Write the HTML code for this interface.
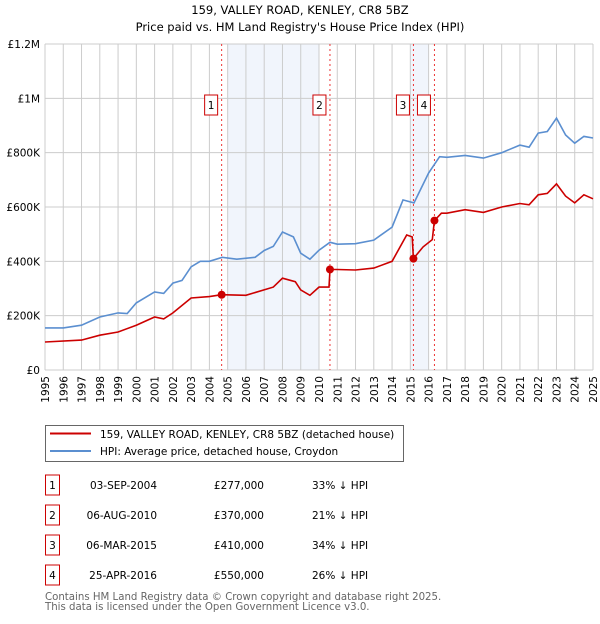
<!DOCTYPE html>
<html><head><meta charset="utf-8"><style>
body{margin:0;background:#fff;width:600px;height:620px;overflow:hidden;font-family:"DejaVu Sans","Liberation Sans",sans-serif}
svg text{font-family:"DejaVu Sans","Liberation Sans",sans-serif}
</style></head><body>
<svg id="c" width="600" height="620"></svg>
<script>
const hpiYears=[1995,1996,1997,1998,1999,1999.5,2000,2001,2001.5,2002,2002.5,2003,2003.5,2004,2004.7,2005.5,2006.5,2007,2007.5,2008,2008.6,2009,2009.5,2010,2010.6,2011,2012,2013,2014,2014.6,2015.2,2016,2016.6,2017,2018,2019,2020,2021,2021.5,2022,2022.5,2023,2023.5,2024,2024.5,2025];
const hpiValues=[155,155,165,195,210,208,247,287,282,320,330,380,400,400,415,408,415,440,455,508,490,430,408,441,470,463,465,478,526,626,615,725,785,783,790,780,800,828,820,872,878,927,865,835,860,854];
const ppYears=[1995,1997,1998,1999,2000,2001,2001.5,2002,2003,2004,2004.67,2006,2007.5,2008,2008.7,2009,2009.5,2010,2010.55,2010.6,2011,2012,2013,2014,2014.8,2015.1,2015.17,2015.7,2016.2,2016.32,2016.7,2017,2018,2019,2020,2021,2021.5,2022,2022.5,2023,2023.5,2024,2024.5,2025];
const ppValues=[103,110,128,140,165,195,188,210,265,270,277,275,305,338,325,295,275,305,305,370,370,368,375,400,497,490,410,453,480,550,577,577,590,580,600,613,608,645,650,685,640,615,645,630];
const saleLabels=["1","2","3","4"];
const saleDates=[2004.67,2010.6,2015.17,2016.32];
const saleValues=[277,370,410,550];
const saleDateText=["03-SEP-2004","06-AUG-2010","06-MAR-2015","25-APR-2016"];
const salePriceText=["£277,000","£370,000","£410,000","£550,000"];
const salePctText=["33% ↓ HPI","21% ↓ HPI","34% ↓ HPI","26% ↓ HPI"];
const yTicks=[0,200,400,600,800,1000,1200];
const yTickLabels=["£0","£200K","£400K","£600K","£800K","£1M","£1.2M"];
const shadeRanges=[[2005,2010],[2015,2016]];

const NS="http://www.w3.org/2000/svg",svg=document.getElementById('c');
const X0=45,X1=593,Y0=370,Y1=44,FS=10.5;
const x=v=>X0+(v-1995)/30*(X1-X0);
const y=v=>Y0-v/1200*(Y0-Y1);
function el(t,a,p){const e=document.createElementNS(NS,t);for(const k in a)e.setAttribute(k,a[k]);(p||svg).appendChild(e);return e;}
function tx(s,a){const e=el('text',a);e.textContent=s;return e;}

let t=tx("159, VALLEY ROAD, KENLEY, CR8 5BZ",{x:300,y:14,'text-anchor':'middle','font-size':11.5});

t=tx("Price paid vs. HM Land Registry's House Price Index (HPI)",{x:300,y:31,'text-anchor':'middle','font-size':11.5});


shadeRanges.forEach(r=>{const e=el('rect',{x:x(r[0]),y:Y1,width:x(r[1])-x(r[0]),height:Y0-Y1,fill:'#eef2fb',opacity:0.8});
});
for(let yr=1995;yr<=2025;yr++){const e=el('line',{x1:x(yr),x2:x(yr),y1:Y1,y2:Y0,stroke:'#cccccc','stroke-width':1});

const l=tx(String(yr),{x:0,y:0,'font-size':FS,'text-anchor':'end',transform:`translate(${x(yr)+4},${Y0+6}) rotate(-90)`});
}
yTicks.forEach((v,i)=>{const e=el('line',{x1:X0,x2:X1,y1:y(v),y2:y(v),stroke:'#cccccc','stroke-width':1});

const l=tx(yTickLabels[i],{x:40,y:y(v)+4,'font-size':FS,'text-anchor':'end'});
});

saleDates.forEach((d,i)=>{const e=el('line',{x1:x(d),x2:x(d),y1:Y1,y2:Y0,stroke:'#ee3333','stroke-width':1,'stroke-dasharray':'2,3'});
});

function path(xs,vs,c,name){const d=xs.map((v,i)=>(i?'L':'M')+x(v).toFixed(1)+','+y(vs[i]).toFixed(1)).join('');
const e=el('path',{d:d,fill:'none',stroke:c,'stroke-width':1.6});
}
path(hpiYears,hpiValues,'#5b8fd0','hpi-line');
path(ppYears,ppValues,'#cc0000','price-paid-line');
saleDates.forEach((d,i)=>{const e=el('circle',{cx:x(d),cy:y(saleValues[i]),r:4,fill:'#cc0000'});

const g=el('g',{});
el('rect',{x:x(d)-17,y:95,width:13,height:20,fill:'#fff',stroke:'#cc0000'},g);
const lt=el('text',{x:x(d)-10.5,y:109,'text-anchor':'middle','font-size':FS},g);lt.textContent=saleLabels[i];});

const lg=el('g',{});
el('rect',{x:45.5,y:425.5,width:358,height:36,fill:'#fff',stroke:'#666'},lg);
el('line',{x1:50,x2:91,y1:433.5,y2:433.5,stroke:'#cc0000','stroke-width':2},lg);
el('line',{x1:50,x2:91,y1:451,y2:451,stroke:'#5b8fd0','stroke-width':2},lg);
let a=el('text',{x:100,y:438,'font-size':FS},lg);a.textContent="159, VALLEY ROAD, KENLEY, CR8 5BZ (detached house)";
a=el('text',{x:100,y:455,'font-size':FS},lg);a.textContent="HPI: Average price, detached house, Croydon";

saleLabels.forEach((s,i)=>{const yy=485+i*30;const g=el('g',{});

el('rect',{x:45.5,y:yy-10,width:14,height:20,fill:'#fff',stroke:'#cc0000'},g);
let q=el('text',{x:52.5,y:yy+4,'text-anchor':'middle','font-size':FS},g);q.textContent=s;
q=el('text',{x:157,y:yy+4,'text-anchor':'end','font-size':FS},g);q.textContent=saleDateText[i];
q=el('text',{x:264,y:yy+4,'text-anchor':'end','font-size':FS},g);q.textContent=salePriceText[i];
q=el('text',{x:312,y:yy+4,'font-size':FS},g);q.textContent=salePctText[i];});

t=tx("Contains HM Land Registry data © Crown copyright and database right 2025.",{x:45,y:600,'font-size':10.2,fill:'#666'});

t=tx("This data is licensed under the Open Government Licence v3.0.",{x:45,y:610,'font-size':10.2,fill:'#666'});

</script>
</body></html>
